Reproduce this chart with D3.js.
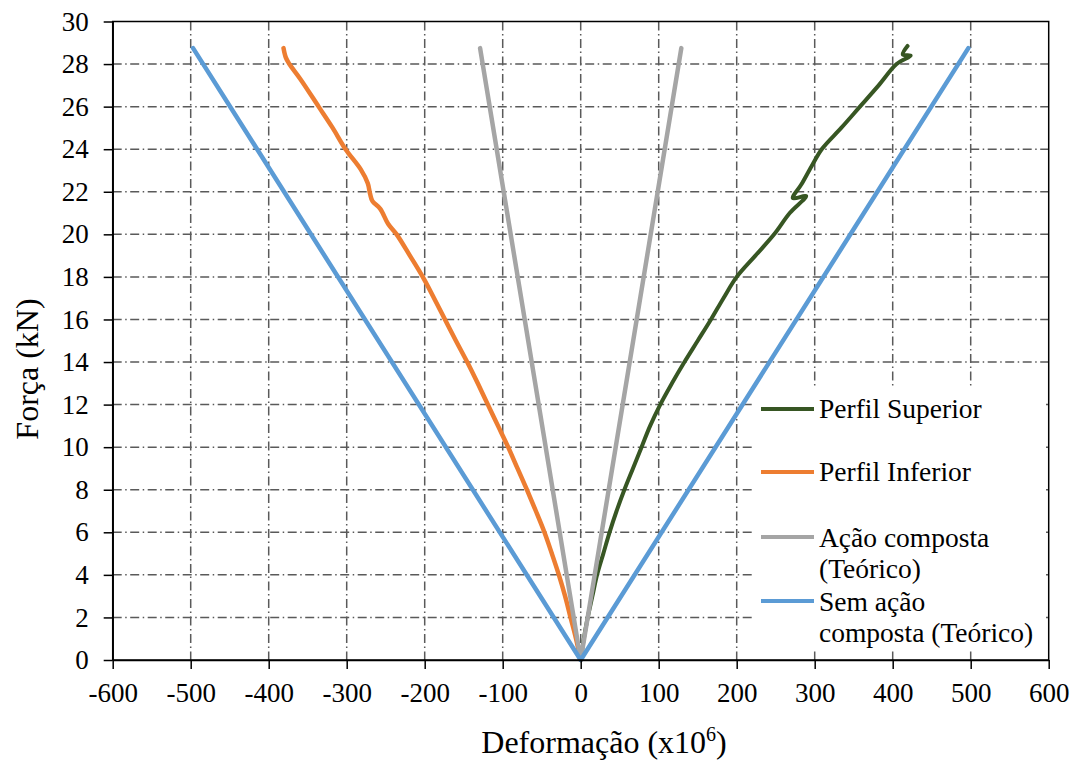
<!DOCTYPE html>
<html>
<head>
<meta charset="utf-8">
<script src="https://cdn.jsdelivr.net/npm/d3@7"></script>
<style>
  html, body { margin: 0; padding: 0; background: #fff; }
  svg { display: block; }
  svg text { font-family: "Times New Roman", "Liberation Serif", Tinos, "DejaVu Serif", serif; fill: #000; }
</style>
</head>
<body>
<svg id="chart" width="1078" height="764"></svg>
<script>
// Load–strain readings (strain in x10^6, force in kN)
const perfilSuperiorStrain = [0, 4, 9, 15, 21, 29, 37, 46, 56, 67, 78, 89, 102, 117, 133, 150, 167, 183, 200, 224, 248, 268, 289, 272, 283, 296, 309, 334, 358, 382, 405, 423, 413, 419];
const perfilSuperiorForce  = [0, 1, 2, 3, 4, 5, 6, 7, 8, 9, 10, 11, 12, 13, 14, 15, 16, 17, 18, 19, 20, 21, 21.8, 21.7, 22.35, 23.2, 24, 25, 26, 27, 28, 28.4, 28.45, 28.85];

const perfilInferiorStrain = [0, -6, -13, -20, -28, -37, -46.5, -57.5, -69, -81, -93, -106, -119, -132, -145.5, -160, -174, -188, -202.5, -219, -236, -247, -257, -267, -270, -273, -282, -301.5, -318, -336, -359.5, -373.5, -378, -381];
const perfilInferiorForce  = [0, 1, 2, 3, 4, 5, 6, 7, 8, 9, 10, 11, 12, 13, 14, 15, 16, 17, 18, 19, 20, 20.5, 21.2, 21.56, 21.9, 22.4, 23.05, 24, 25, 26, 27.3, 28, 28.3, 28.75];

const acaoCompostaStrain = [-129, 0, 129];
const acaoCompostaForce  = [28.75, 0, 28.75];

const semAcaoStrain = [-497, 0, 497];
const semAcaoForce  = [28.75, 0, 28.75];

const xTicks = [-600, -500, -400, -300, -200, -100, 0, 100, 200, 300, 400, 500, 600];
const yTicks = [0, 2, 4, 6, 8, 10, 12, 14, 16, 18, 20, 22, 24, 26, 28, 30];

const seriesNames  = ["Perfil Superior", "Perfil Inferior", "Ação composta (Teórico)", "Sem ação composta (Teórico)"];
const seriesColors = ["#375623", "#ED7D31", "#A5A5A5", "#5B9BD5"];

const series = [
  { name: seriesNames[0], color: seriesColors[0], width: 4,   xs: perfilSuperiorStrain, ys: perfilSuperiorForce, smooth: true },
  { name: seriesNames[1], color: seriesColors[1], width: 4.5, xs: perfilInferiorStrain, ys: perfilInferiorForce, smooth: true },
  { name: seriesNames[2], color: seriesColors[2], width: 4.5, xs: acaoCompostaStrain,   ys: acaoCompostaForce },
  { name: seriesNames[3], color: seriesColors[3], width: 4.5, xs: semAcaoStrain,        ys: semAcaoForce }
];

const serif = '"Times New Roman", "Liberation Serif", Tinos, "DejaVu Serif", serif';

const svg = d3.select("#chart");
const plot = { left: 112.7, right: 1048.7, top: 21.5, bottom: 660 };

const x = d3.scaleLinear().domain([-600, 600]).range([plot.left, plot.right]);
const y = d3.scaleLinear().domain([0, 30]).range([plot.bottom, plot.top]);

const gridDash = "9,3.5,1.5,3.5";
const grid = svg.append("g").attr("stroke", "#5a5a5a").attr("stroke-width", 1.5).attr("stroke-dasharray", gridDash);

grid.selectAll("line.v").data(xTicks.filter(d => d > -600 && d < 600)).join("line")
  .attr("class", "v")
  .attr("x1", d => x(d)).attr("x2", d => x(d))
  .attr("y1", plot.top).attr("y2", plot.bottom);
grid.selectAll("line.h").data(yTicks.filter(d => d > 0 && d < 30)).join("line")
  .attr("class", "h")
  .attr("x1", plot.left).attr("x2", plot.right)
  .attr("y1", d => y(d)).attr("y2", d => y(d));

// Legend panel sits over the grid
const legendBox = { x: 752, y: 386, w: 294, h: 262 };
svg.append("rect")
  .attr("x", legendBox.x).attr("y", legendBox.y)
  .attr("width", legendBox.w).attr("height", legendBox.h)
  .attr("fill", "#fff");

// Data lines
const straight = d3.line().x(d => x(d[0])).y(d => y(d[1]));
const smoothLine = d3.line().x(d => x(d[0])).y(d => y(d[1])).curve(d3.curveCatmullRom.alpha(0.5));
series.forEach(s => {
  const pts = s.xs.map((v, i) => [v, s.ys[i]]);
  svg.append("path")
    .datum(pts)
    .attr("d", s.smooth ? smoothLine : straight)
    .attr("fill", "none")
    .attr("stroke", s.color)
    .attr("stroke-width", s.width)
    .attr("stroke-linejoin", "round")
    .attr("stroke-linecap", "round");
});

// Plot frame
svg.append("rect")
  .attr("x", plot.left).attr("y", plot.top)
  .attr("width", plot.right - plot.left).attr("height", plot.bottom - plot.top)
  .attr("fill", "none").attr("stroke", "#000").attr("stroke-width", 1.5);

// Axes
const tickFont = 27;
const xAxis = svg.append("g")
  .attr("transform", `translate(0,${plot.bottom})`)
  .call(d3.axisBottom(x).tickValues(xTicks).tickFormat(d => String(d))
    .tickSize(9).tickSizeOuter(0).tickPadding(14));
const yAxis = svg.append("g")
  .attr("transform", `translate(${plot.left},0)`)
  .call(d3.axisLeft(y).tickValues(yTicks).tickFormat(d => String(d))
    .tickSize(9).tickSizeOuter(0).tickPadding(15));

[xAxis, yAxis].forEach(g => {
  g.attr("font-family", serif).attr("font-size", tickFont);
  g.select(".domain").attr("stroke", "#000").attr("stroke-width", 1.5);
  g.selectAll(".tick line").attr("stroke", "#000").attr("stroke-width", 1.5);
  g.selectAll(".tick text").attr("fill", "#000")
    .style("font-family", serif).style("font-size", tickFont + "px");
});

// Axis titles
const xTitle = svg.append("text")
  .attr("x", 604).attr("y", 753)
  .attr("text-anchor", "middle")
  .style("font-family", serif)
  .style("font-size", "32px");
xTitle.append("tspan").text("Deformação (x10");
xTitle.append("tspan").attr("dy", -12).style("font-size", "20px").text("6");
xTitle.append("tspan").attr("dy", 12).text(")");

svg.append("text")
  .attr("transform", "translate(38,369) rotate(-90)")
  .attr("text-anchor", "middle")
  .style("font-family", serif)
  .style("font-size", "32px")
  .text("Força (kN)");

// Legend entries
const legendItems = [
  { s: series[0], lineY: 409, lines: ["Perfil Superior"], baseY: 418 },
  { s: series[1], lineY: 472, lines: ["Perfil Inferior"], baseY: 481 },
  { s: series[2], lineY: 537, lines: ["Ação composta", "(Teórico)"], baseY: 547 },
  { s: series[3], lineY: 601, lines: ["Sem ação", "composta (Teórico)"], baseY: 611 }
];
legendItems.forEach(item => {
  svg.append("line")
    .attr("x1", 761).attr("x2", 814)
    .attr("y1", item.lineY).attr("y2", item.lineY)
    .attr("stroke", item.s.color).attr("stroke-width", 4);
  const t = svg.append("text")
    .attr("x", 819).attr("y", item.baseY)
    .style("font-family", serif)
    .style("font-size", "27.5px");
  item.lines.forEach((l, i) => {
    t.append("tspan").attr("x", 819).attr("dy", i === 0 ? 0 : 31).text(l);
  });
});
</script>
</body>
</html>
